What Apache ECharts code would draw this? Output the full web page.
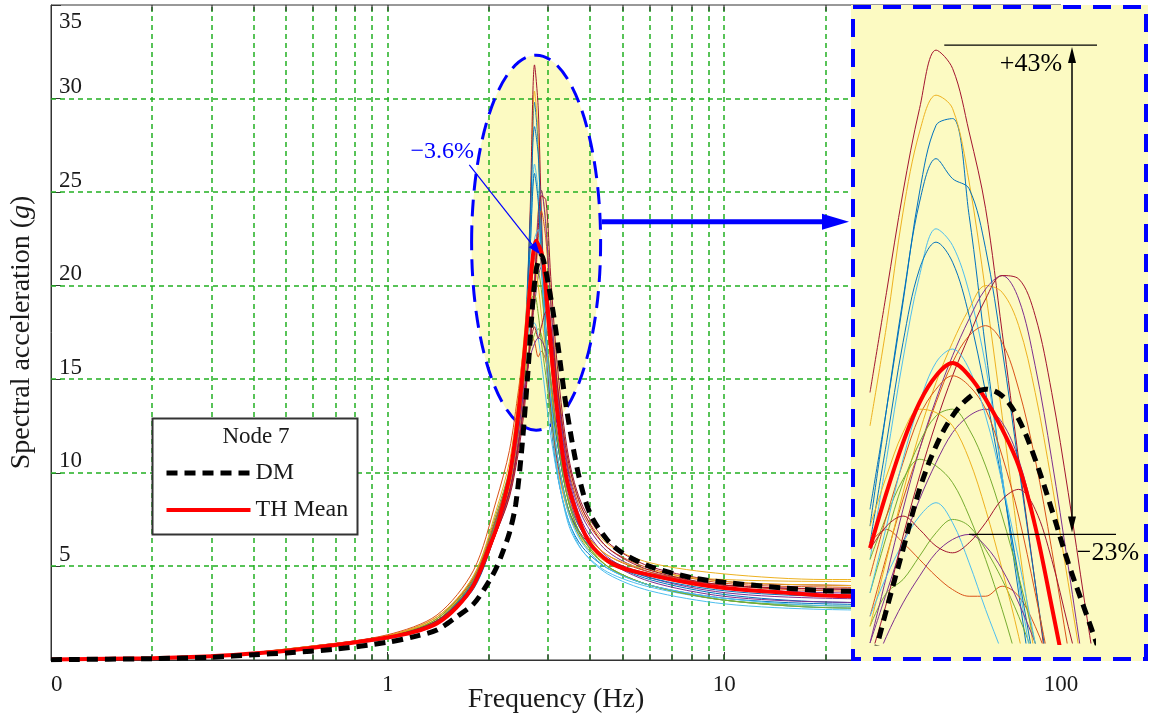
<!DOCTYPE html>
<html><head><meta charset="utf-8">
<script src="https://cdn.jsdelivr.net/npm/echarts@6.0.0/dist/echarts.min.js"></script>
<style>html,body{margin:0;padding:0;background:#fff}#c{width:1150px;height:721px}</style>
</head><body><div id="c"></div><script>
// ---------------- DATA ----------------
const xTickLabels = ['0', '1', '10', '100'];
const yTickValues = [5, 10, 15, 20, 25, 30, 35];
const majorXGrid = [1, 10];
const minorTicks = [0.2,0.3,0.4,0.5,0.6,0.7,0.8,0.9,2,3,4,5,6,7,8,9,20,30,40,50,60,70,80,90];

const freqMain = [0.1,0.2,0.3,0.4,0.5,0.7,1.0,1.2,1.4,1.6,1.8,2.0,2.1,2.2,2.3,2.4,2.5,2.6,2.7,2.76,2.82,2.86,2.9,3.0,3.1,3.2,3.4,3.7,4.0,4.5,5.0,6.0,8.0,10,15,20,30,50,100];
const thMeanMain = [0.03,0.1,0.2,0.35,0.5,0.8,1.2,1.5,1.95,2.8,4.0,6.0,7.0,8.3,9.8,12.0,14.8,18.2,21.6,22.4,22.1,21.8,21.3,18.4,15.4,13.1,9.7,7.5,6.2,5.3,4.9,4.55,4.1,3.85,3.6,3.45,3.4,3.4,3.4];
const dmMain = [0.02,0.07,0.15,0.28,0.38,0.58,0.95,1.25,1.6,2.3,3.0,4.2,4.9,5.8,6.8,8.3,11.2,15.0,19.2,20.8,21.5,21.6,21.4,20.1,18.6,16.9,13.4,9.8,7.8,6.4,5.7,5.0,4.4,4.15,3.85,3.7,3.65,3.6,3.6];

const recFreq = [0.1,0.3,0.6,1.0,1.4,1.8,2.1,2.3,2.45,2.55,2.65,2.73,2.8,2.86,2.95,3.05,3.2,3.45,3.8,4.5,6,10,20,100];
const rec01 = [0.03,0.19,0.68,1.2,2.0,3.8,6.9,9.1,12.2,15.8,23.0,29.8,27.5,22.0,16.5,12.8,9.8,7.4,6.0,4.9,4.0,3.3,3.0,2.9];
const rec02 = [0.03,0.21,0.75,1.35,2.4,4.8,8.5,11.2,14.5,16.8,17.4,17.0,16.2,16.5,16.0,14.0,11.5,8.5,6.8,5.4,4.5,3.8,3.5,3.4];
const rec03 = [0.03,0.2,0.72,1.25,2.2,4.2,7.0,9.3,12.5,16.0,23.5,30.4,28.0,22.5,16.8,13.0,10.2,7.8,6.4,5.2,4.6,4.3,4.2,4.2];
const rec04 = [0.03,0.2,0.7,1.2,2.05,4.1,7.0,9.3,12.0,14.5,17.2,19.0,20.5,21.0,20.2,18.0,14.0,9.8,7.3,5.5,4.4,3.6,3.3,3.2];
const rec05 = [0.03,0.2,0.72,1.25,2.2,4.4,7.6,10.0,13.0,15.2,16.6,17.4,17.7,17.4,16.2,14.2,11.5,8.4,6.5,5.0,4.0,3.2,2.8,2.7];
const rec06 = [0.03,0.2,0.66,1.15,1.9,3.9,7.0,9.4,12.8,16.5,22.0,26.5,25.0,21.0,16.5,13.2,10.0,7.2,5.8,4.7,3.9,3.2,2.8,2.7];
const rec07 = [0.03,0.22,0.75,1.3,2.1,3.9,6.8,9.0,12.0,15.5,24.0,31.8,29.5,24.0,17.5,13.5,10.5,8.0,6.6,5.4,4.6,4.0,3.8,3.7];
const rec08 = [0.03,0.21,0.7,1.22,2.1,4.1,7.3,9.6,13.0,16.8,23.5,28.5,27.0,23.0,17.8,14.0,10.8,8.0,6.5,5.3,4.4,3.7,3.4,3.3];
const rec09 = [0.03,0.2,0.7,1.2,2.1,4.0,6.8,8.8,11.5,14.0,17.0,19.5,22.5,24.0,22.5,19.0,14.5,10.2,7.8,6.0,4.9,4.1,3.9,3.8];
const rec10 = [0.03,0.21,0.72,1.3,2.2,4.3,7.1,9.2,12.0,14.5,17.5,20.5,24.0,25.1,23.5,19.5,14.8,10.5,8.0,6.2,5.2,4.6,4.3,4.3];
const rec11 = [0.03,0.2,0.69,1.2,2.05,4.0,6.9,9.0,11.8,14.2,17.2,20.2,23.8,25.1,23.2,19.2,14.4,10.0,7.6,5.8,4.7,3.9,3.6,3.5];
const rec12 = [0.03,0.2,0.72,1.25,2.2,4.5,7.8,10.2,13.5,16.5,19.2,19.5,18.5,17.0,15.2,13.2,10.8,8.0,6.3,5.0,4.0,3.2,2.8,2.7];
const rec13 = [0.03,0.19,0.68,1.15,2.0,4.2,7.5,10.0,13.2,16.0,17.8,18.0,17.2,16.0,14.0,12.0,9.8,7.4,5.8,4.6,3.7,3.0,2.7,2.6];
const rec14 = [0.03,0.21,0.7,1.25,2.1,4.1,7.0,9.0,11.6,14.0,17.0,19.8,23.0,24.8,24.6,20.5,15.5,10.8,8.2,6.3,5.0,4.2,4.0,3.9];
const rec15 = [0.03,0.2,0.7,1.2,2.1,4.2,7.5,10.0,13.5,16.8,22.0,26.0,24.5,21.5,17.2,14.5,11.5,8.5,6.8,5.3,4.3,3.5,3.1,3.0];
const rec16 = [0.03,0.21,0.74,1.3,2.3,4.4,7.6,10.0,13.2,16.0,19.5,21.5,22.0,21.0,18.8,16.0,12.6,9.0,7.0,5.6,4.7,4.0,3.7,3.6];
const rec17 = [0.03,0.22,0.75,1.3,2.3,4.5,8.0,10.6,14.2,17.5,20.6,21.0,20.0,18.5,16.5,14.5,11.8,8.6,6.9,5.6,4.8,4.2,4.0,3.9];
const rec18 = [0.03,0.2,0.7,1.2,2.1,4.3,7.4,9.6,12.4,14.6,16.2,16.9,17.2,17.1,16.5,15.0,12.0,8.8,6.8,5.3,4.2,3.4,3.1,3.0];
const rec19 = [0.03,0.2,0.7,1.2,2.1,4.3,7.4,9.8,12.8,15.5,19.0,21.0,20.8,19.8,17.5,15.0,11.8,8.4,6.5,5.0,4.0,3.2,2.9,2.8];
const rec20 = [0.03,0.19,0.66,1.15,1.95,4.0,7.2,9.6,13.0,16.0,19.8,22.5,23.0,21.2,17.5,14.0,10.8,7.8,6.2,4.9,4.0,3.3,2.9,2.8];
const rec21 = [0.03,0.2,0.7,1.22,2.1,4.0,6.8,8.7,11.2,13.5,16.8,17.8,17.2,17.8,18.6,17.8,14.5,10.5,8.0,6.0,4.8,4.0,3.8,3.7];

// zoomed inset (peak region)
const insetFreq = [2.58,2.62,2.66,2.70,2.74,2.78,2.82,2.86,2.90,2.94,2.98,3.02,3.06,3.10,3.14];
const insTH = [16.84,18.5,20.0,21.2,22.0,22.38,22.0,21.3,20.4,19.3,17.5,15.1,12.6,10.0,7.5];
const insDM = [13.1,15.0,16.8,18.6,19.9,20.8,21.35,21.6,21.4,20.7,19.5,18.0,16.4,15.0,13.6];
const ins01 = [18.0,21.0,24.2,27.5,29.5,29.7,26.8,22.8,19.0,15.5,12.2,9.5,7,5,3];
const ins02 = [17.0,17.4,17.0,16.5,16.0,15.6,15.4,15.4,15.7,15.4,14.5,13.2,11.8,10.5,9];
const ins03 = [20.5,23.5,26.9,29.3,30.4,30.0,27.8,24.5,20.8,17.0,13.5,10.0,7,5,3];
const ins04 = [14.0,15.5,17.0,18.3,19.4,20.3,20.8,21.0,20.6,19.5,17.6,15.2,12.5,10,8];
const ins05 = [14.5,15.5,15.9,16.6,17.3,17.7,17.5,16.8,15.9,14.8,13.5,12,10.5,9,8];
const ins06 = [16.5,19.5,22.5,25.0,26.4,25.9,24.5,22.3,19.0,15.8,12.8,10,8,6,4];
const ins07 = [21.5,24.5,27.5,30.0,31.75,31.2,29.3,27.0,23.3,19.5,15.8,12.2,9,7,5];
const ins08 = [17.5,21.0,24.3,27.2,28.5,27.9,27.6,25.8,22.8,19.3,15.8,12.5,9.5,7,5];
const ins09 = [14.8,16.6,18.3,19.8,21.2,22.4,23.2,23.5,23.0,21.6,19.5,16.8,13.8,11,8];
const ins10 = [14.5,16.5,18.5,20.3,21.8,23.0,24.0,24.7,24.5,23.5,21.5,18.8,15.8,12.8,10];
const ins11 = [14.0,16.0,18.0,19.8,21.3,22.6,23.7,24.6,25.0,24.3,22.3,19.5,16.3,13.0,10];
const ins12 = [16.5,17.8,18.9,19.5,19.3,18.8,17.8,16.5,15.0,13.3,11.5,10,8.5,7,6];
const ins13 = [14.8,16.0,17.0,17.8,18.2,17.6,16.4,15.0,13.7,12.3,11,10,9,8,7];
const ins14 = [13.5,15.2,17.2,19.0,20.6,22.0,23.2,24.3,25.0,24.9,23.8,21.5,18.5,15.2,12];
const ins15 = [17.0,20.0,23.0,25.2,26.0,25.4,23.8,21.5,18.8,16.0,13.2,10.5,8,6,4];
const ins16 = [16.0,17.8,19.4,20.8,21.6,22.0,21.7,21.0,19.6,17.8,15.5,13.0,10.5,8,6];
const ins17 = [17.5,19.0,20.3,21.0,20.9,20.5,19.5,18.0,16.2,14.2,12.0,10,8,6,4];
const ins18 = [13.0,14.2,15.2,16.0,16.7,17.1,17.25,16.9,16.2,15.2,14.0,12.6,11,9.5,8];
const ins19 = [15.5,17.2,18.8,20.0,20.8,21.0,20.4,19.3,17.8,16.0,14.0,12,10,8,6];
const ins20 = [15.5,17.5,19.5,21.2,22.4,22.8,22.2,20.8,18.8,16.5,14.0,11.5,9,7,5];
const ins21 = [16.8,17.5,17.8,17.4,16.9,16.7,17.0,17.6,18.3,18.6,18.0,16.5,14.5,12.5,10.5];

const recColors = ['#0072BD','#D95319','#EDB120','#7E2F8E','#77AC30','#4DBEEE','#A2142F'];
const annoPeakMax = [2.755, 31.9];   // +43%
const annoPeakMin = [2.82, 17.25];   // -23%
const dmPeak = [2.86, 21.6];         // -3.6%
const thPeak = [2.76, 22.3];

// ---------------- CHART ----------------
const FONT = '"Liberation Serif", "DejaVu Serif", serif';
const GREEN = '#22b022';
const BLUE = '#0000ff';
const YELLOW = '#fcfac2';
const recordsMain = [rec01,rec02,rec03,rec04,rec05,rec06,rec07,rec08,rec09,rec10,rec11,rec12,rec13,rec14,rec15,rec16,rec17,rec18,rec19,rec20,rec21];
const recordsInset = [ins01,ins02,ins03,ins04,ins05,ins06,ins07,ins08,ins09,ins10,ins11,ins12,ins13,ins14,ins15,ins16,ins17,ins18,ins19,ins20,ins21];
const snap = v => Math.round(v);

const chart = echarts.init(document.getElementById('c'), null, {renderer: 'canvas'});
const series = [];
// vertical grid lines (major + minor) with inner ticks top and bottom
series.push({
  type: 'custom', name: 'xGrid', xAxisIndex: 0, yAxisIndex: 0, z: 1, silent: true, clip: false,
  data: majorXGrid.concat(minorTicks).map(v => [v, 0]),
  renderItem: function (params, api) {
    const v = api.value(0);
    const b = api.coord([v, 0]), t = api.coord([v, 35]);
    const x = snap(b[0]);
    return {type: 'group', children: [
      {type: 'line', shape: {x1: x, y1: b[1], x2: x, y2: t[1]}, style: {stroke: GREEN, lineWidth: 1.5, lineDash: [5, 4]}},
      {type: 'line', shape: {x1: x, y1: b[1], x2: x, y2: b[1] - 6}, style: {stroke: '#333', lineWidth: 1.2}},
      {type: 'line', shape: {x1: x, y1: t[1], x2: x, y2: t[1] + 6}, style: {stroke: '#333', lineWidth: 1.2}}
    ]};
  }
});
// horizontal grid lines
series.push({
  type: 'custom', name: 'yGrid', xAxisIndex: 0, yAxisIndex: 0, z: 1, silent: true, clip: false,
  data: yTickValues.filter(v => v < 35).map(v => [0.1, v]),
  renderItem: function (params, api) {
    const v = api.value(1);
    const a = api.coord([0.1, v]), b = api.coord([100, v]);
    const y = snap(a[1]);
    return {type: 'line', shape: {x1: a[0], y1: y, x2: b[0], y2: y}, style: {stroke: GREEN, lineWidth: 1.5, lineDash: [5, 4]}};
  }
});
recordsMain.forEach((r, i) => series.push({
  type: 'line', name: 'Record ' + (i + 1), xAxisIndex: 0, yAxisIndex: 0, z: 2, silent: true,
  data: recFreq.map((f, j) => [f, r[j]]), smooth: 0.3, symbol: 'none',
  lineStyle: {width: 1, color: recColors[i % 7]}
}));
series.push({type: 'line', name: 'TH Mean', xAxisIndex: 0, yAxisIndex: 0, z: 3, silent: true,
  data: freqMain.map((f, j) => [f, thMeanMain[j]]), smooth: 0.3, symbol: 'none',
  lineStyle: {width: 4, color: '#ff0000'}, itemStyle: {color: '#ff0000'}});
series.push({type: 'line', name: 'DM', xAxisIndex: 0, yAxisIndex: 0, z: 3, silent: true,
  data: freqMain.map((f, j) => [f, dmMain[j]]), smooth: 0.3, symbol: 'none',
  lineStyle: {width: 5, color: '#000', type: [11, 7]}, itemStyle: {color: '#000'}});
recordsInset.forEach((r, i) => series.push({
  type: 'line', name: 'Inset record ' + (i + 1), xAxisIndex: 1, yAxisIndex: 1, z: 6, silent: true,
  data: insetFreq.map((f, j) => [f, r[j]]), smooth: 0.35, symbol: 'none',
  lineStyle: {width: 1, color: recColors[i % 7]}
}));
series.push({type: 'line', name: 'Inset TH Mean', xAxisIndex: 1, yAxisIndex: 1, z: 6, silent: true,
  data: insetFreq.map((f, j) => [f, insTH[j]]), smooth: 0.35, symbol: 'none',
  lineStyle: {width: 4, color: '#ff0000'}});
series.push({type: 'line', name: 'Inset DM', xAxisIndex: 1, yAxisIndex: 1, z: 6, silent: true,
  data: insetFreq.map((f, j) => [f, insDM[j]]), smooth: 0.35, symbol: 'none',
  lineStyle: {width: 5, color: '#000', type: [11, 7]}});

const labelStyle = {fontFamily: FONT, fontSize: 23, color: '#1a1a1a'};
chart.setOption({
  animation: false,
  backgroundColor: '#fff',
  grid: [
    {left: 51, top: 5, width: 1010, height: 655, show: true, borderColor: '#333', borderWidth: 1, backgroundColor: 'transparent', outerBoundsMode: 'none', containLabel: false},
    {left: 870, top: 5, width: 223, height: 638, outerBoundsMode: 'none', containLabel: false}
  ],
  xAxis: [
    {gridIndex: 0, type: 'log', logBase: 10, min: 0.1, max: 100,
      axisLine: {show: true, onZero: false, lineStyle: {color: '#333', width: 1}},
      axisTick: {show: true, inside: true, length: 8, lineStyle: {color: '#333'}},
      axisLabel: Object.assign({margin: 13, alignMinLabel: 'left', formatter: v => xTickLabels[Math.round(Math.log10(v)) + 1]}, labelStyle),
      splitLine: {show: false},
      name: 'Frequency (Hz)', nameLocation: 'middle', nameGap: 26, nameMoveOverlap: false,
      nameTextStyle: {fontFamily: FONT, fontSize: 28, color: '#1a1a1a'}},
    {gridIndex: 1, type: 'value', min: 2.58, max: 3.12, show: false}
  ],
  yAxis: [
    {gridIndex: 0, type: 'value', min: 0, max: 35, interval: 5,
      axisLine: {show: true, lineStyle: {color: '#333', width: 1}},
      axisTick: {show: true, inside: true, length: 10, lineStyle: {color: '#333'}},
      axisLabel: Object.assign({inside: true, margin: 8, verticalAlign: 'bottom',
        formatter: v => (yTickValues.indexOf(v) >= 0 && v !== 35) ? String(v) : ''}, labelStyle),
      splitLine: {show: false},
      name: '{a|Spectral acceleration (}{b|g}{a|)}', nameLocation: 'middle', nameGap: 15, nameRotate: 90, nameMoveOverlap: false,
      nameTextStyle: {rich: {
        a: {fontFamily: FONT, fontSize: 28, color: '#1a1a1a'},
        b: {fontFamily: FONT, fontSize: 28, fontStyle: 'italic', color: '#1a1a1a'}}}},
    {gridIndex: 1, type: 'value', min: 14, max: 33.1, show: false}
  ],
  legend: {
    data: [
      {name: 'DM', lineStyle: {width: 5, type: [11, 7], color: '#000'}},
      {name: 'TH Mean', lineStyle: {width: 4, color: '#ff0000'}}
    ],
    orient: 'vertical', left: 164, top: 461, z: 12,
    itemWidth: 84, itemHeight: 14, itemGap: 13, padding: 0, selectedMode: false,
    itemStyle: {color: 'rgba(0,0,0,0)', borderWidth: 0, borderColor: 'rgba(0,0,0,0)', opacity: 0},
    textStyle: {fontFamily: FONT, fontSize: 24, color: '#1a1a1a'}
  },
  series: series
});

// ---------------- ANNOTATIONS ----------------
const p0 = v => chart.convertToPixel({gridIndex: 0}, v);
const p1 = v => chart.convertToPixel({gridIndex: 1}, v);
const c = p0(thPeak);
const rx = 64.5, ry = 187.5;
const ay = c[1] - 21;
const dm = p0(dmPeak);
const pMax = p1(annoPeakMax);
const pMin = p1(annoPeakMin);
function arrowHead(tip, from, len, half, color, z) {
  const dx = tip[0] - from[0], dy = tip[1] - from[1];
  const L = Math.sqrt(dx * dx + dy * dy), ux = dx / L, uy = dy / L;
  const bx = tip[0] - ux * len, by = tip[1] - uy * len;
  return {type: 'polygon', z: z, silent: true,
    shape: {points: [[tip[0], tip[1]], [bx - uy * half, by + ux * half], [bx + uy * half, by - ux * half]]},
    style: {fill: color}};
}
const start36 = [dm[0] - 72, dm[1] - 91];
const arrowX = 1072;
const g = [
  {type: 'ellipse', z: -1, silent: true, shape: {cx: c[0], cy: c[1], rx: rx, ry: ry}, style: {fill: YELLOW}},
  {type: 'ellipse', z: 1, silent: true, shape: {cx: c[0], cy: c[1], rx: rx, ry: ry}, style: {fill: 'none', stroke: BLUE, lineWidth: 3, lineDash: [17, 9]}},
  {type: 'line', z: 4, silent: true, shape: {x1: c[0] + rx + 1, y1: ay, x2: 826, y2: ay}, style: {stroke: BLUE, lineWidth: 5}},
  arrowHead([849, ay], [800, ay], 27, 8, BLUE, 4),
  {type: 'line', z: 4, silent: true, shape: {x1: start36[0], y1: start36[1], x2: dm[0] - 5, y2: dm[1] - 6}, style: {stroke: BLUE, lineWidth: 1.2}},
  arrowHead([dm[0] - 1, dm[1] - 1], start36, 13, 4.5, BLUE, 4),
  {type: 'text', z: 4, silent: true, x: dm[0] - 99, y: dm[1] - 104, style: {text: '\u22123.6%', fontFamily: FONT, fontSize: 24, fill: BLUE, align: 'center', verticalAlign: 'middle'}},
  {type: 'text', z: 3, silent: true, x: 59, y: 22, style: {text: '35', fontFamily: FONT, fontSize: 23, fill: '#1a1a1a', align: 'left', verticalAlign: 'middle'}},
  // inset panel
  {type: 'rect', z: 5, silent: true, shape: {x: 851, y: 5, width: 297, height: 656}, style: {fill: YELLOW}},
  {type: 'rect', z: 7, silent: true, shape: {x: 853, y: 7, width: 293, height: 652}, style: {fill: 'none', stroke: BLUE, lineWidth: 4, lineDash: [18, 12]}},
  {type: 'line', z: 8, silent: true, shape: {x1: pMax[0] + 2, y1: pMax[1], x2: 1097, y2: pMax[1]}, style: {stroke: '#000', lineWidth: 1.2}},
  {type: 'line', z: 8, silent: true, shape: {x1: pMin[0], y1: pMin[1], x2: 1116, y2: pMin[1]}, style: {stroke: '#000', lineWidth: 1.2}},
  {type: 'line', z: 8, silent: true, shape: {x1: arrowX, y1: pMax[1] + 14, x2: arrowX, y2: pMin[1] - 14}, style: {stroke: '#000', lineWidth: 1.5}},
  arrowHead([arrowX, pMax[1] + 2], [arrowX, pMax[1] + 40], 16, 4, '#000', 8),
  arrowHead([arrowX, pMin[1] - 2], [arrowX, pMin[1] - 40], 16, 4, '#000', 8),
  {type: 'text', z: 8, silent: true, x: 1031, y: pMax[1] + 19, style: {text: '+43%', fontFamily: FONT, fontSize: 26, fill: '#000', align: 'center', verticalAlign: 'middle'}},
  {type: 'text', z: 8, silent: true, x: 1108, y: pMin[1] + 19, style: {text: '\u221223%', fontFamily: FONT, fontSize: 26, fill: '#000', align: 'center', verticalAlign: 'middle'}},
  // legend frame
  {type: 'rect', z: 9, silent: true, shape: {x: 152.5, y: 418.5, width: 205, height: 116}, style: {fill: '#fff', stroke: '#333', lineWidth: 2}},
  {type: 'text', z: 10, silent: true, x: 256, y: 437, style: {text: 'Node 7', fontFamily: FONT, fontSize: 23, fill: '#1a1a1a', align: 'center', verticalAlign: 'middle'}}
];
chart.setOption({graphic: {elements: g}});
</script></body></html>
